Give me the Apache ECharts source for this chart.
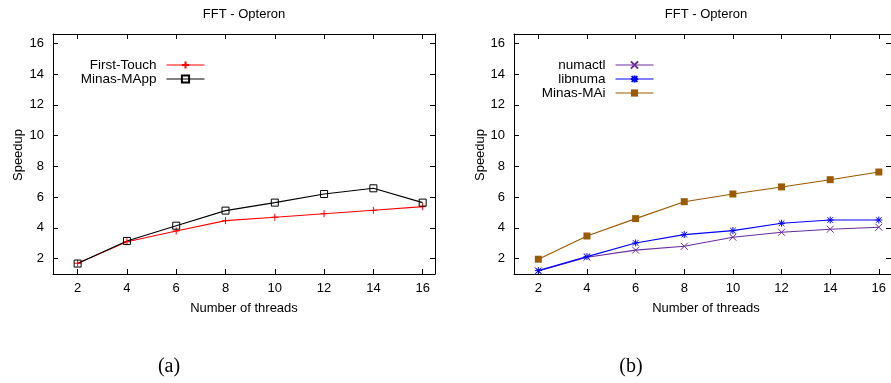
<!DOCTYPE html>
<html>
<head>
<meta charset="utf-8">
<script src="https://cdn.jsdelivr.net/npm/echarts@6/dist/echarts.min.js"></script>
<style>html,body{margin:0;padding:0;background:#fff;}#c{width:891px;height:383px;}</style>
</head>
<body>
<div id="c"></div>
<script>
// ---- data ----
const threads = [2, 4, 6, 8, 10, 12, 14, 16];
const xTicks = [2, 4, 6, 8, 10, 12, 14, 16];
const yTicks = [2, 4, 6, 8, 10, 12, 14, 16];
const firstTouch = [1.70, 3.10, 3.80, 4.47, 4.69, 4.92, 5.14, 5.38];
const minasMApp  = [1.68, 3.15, 4.14, 5.12, 5.64, 6.20, 6.57, 5.64];
const numactl    = [1.20, 2.09, 2.55, 2.80, 3.39, 3.71, 3.91, 4.04];
const libnuma    = [1.22, 2.13, 3.02, 3.56, 3.82, 4.30, 4.51, 4.51];
const minasMAi   = [1.96, 3.47, 4.60, 5.70, 6.20, 6.66, 7.13, 7.63];
const titleText = 'FFT - Opteron';
const xName = 'Number of threads';
const yName = 'Speedup';
const captions = ['(a)', '(b)'];

const FONT = 'Liberation Sans';
const pairs = arr => threads.map((t, i) => [t, arr[i]]);

const PLUS = 'path://M5,0L5,10M0,5L10,5';
const CROSS = 'path://M0,0L10,10M10,0L0,10';
const STAR = 'path://M5,0L5,10M0,5L10,5M1,1L9,9M9,1L1,9';

function mkX(gi, pos) {
  return {
    type: 'value', gridIndex: gi, position: pos, min: 1, max: 16.5,
    axisLine: { show: true, onZero: false, lineStyle: { color: '#000', width: 1 } },
    axisTick: { show: true, inside: true, length: 5, customValues: xTicks, lineStyle: { color: '#000' } },
    axisLabel: { show: pos === 'bottom', customValues: xTicks, margin: 8, color: '#000', fontFamily: FONT, fontSize: 13 },
    splitLine: { show: false }
  };
}
function mkY(gi, pos) {
  return {
    type: 'value', gridIndex: gi, position: pos, min: 1, max: 16.6,
    axisLine: { show: true, onZero: false, lineStyle: { color: '#000', width: 1 } },
    axisTick: { show: true, inside: true, length: 5, customValues: yTicks, lineStyle: { color: '#000' } },
    axisLabel: { show: pos === 'left', customValues: yTicks, margin: 9, color: '#000', fontFamily: FONT, fontSize: 13 },
    splitLine: { show: false }
  };
}
function line(name, data, xi, yi, color, symbol, size, itemStyle) {
  return {
    name, type: 'line', xAxisIndex: xi, yAxisIndex: yi, data: pairs(data),
    symbol, symbolSize: size, showAllSymbol: true,
    lineStyle: { color, width: 1.1 },
    itemStyle: itemStyle || { color: 'rgba(0,0,0,0)', borderColor: color, borderWidth: 1 },
    emphasis: { disabled: true }, animation: false
  };
}

const chart = echarts.init(document.getElementById('c'));
const legendCommon = {
  orient: 'vertical', align: 'right', itemWidth: 38, itemHeight: 9, itemGap: 0,
  textStyle: { fontFamily: FONT, fontSize: 13.5, color: '#000', padding: [0, 5, 0, 0] },
  lineStyle: { width: 1 },
  selectedMode: false
};
chart.setOption({
  animation: false,
  backgroundColor: '#fff',
  grid: [
    { left: 53, top: 34, width: 382, height: 240 },
    { left: 514, top: 34, width: 383, height: 240 }
  ],
  xAxis: [mkX(0, 'bottom'), mkX(0, 'top'), mkX(1, 'bottom'), mkX(1, 'top')],
  yAxis: [mkY(0, 'left'), mkY(0, 'right'), mkY(1, 'left'), mkY(1, 'right')],
  legend: [
    Object.assign({}, legendCommon, { data: ['First-Touch', 'Minas-MApp'], right: 681, top: 53 }),
    Object.assign({}, legendCommon, { data: ['numactl', 'libnuma', 'Minas-MAi'], right: 232, top: 53 })
  ],
  series: [
    line('First-Touch', firstTouch, 0, 0, '#ff0000', PLUS, 7),
    line('Minas-MApp', minasMApp, 0, 0, '#000000', 'rect', 7, { color: 'rgba(255,255,255,0)', borderColor: '#000', borderWidth: 1 }),
    line('numactl', numactl, 2, 2, '#6a2c9c', CROSS, 7),
    line('libnuma', libnuma, 2, 2, '#0000ff', STAR, 7),
    line('Minas-MAi', minasMAi, 2, 2, '#9a5a00', 'rect', 7, { color: '#9a5a00' })
  ],
  graphic: [
    { type: 'text', x: 244, y: 14, style: { text: titleText, font: '13px ' + FONT, fill: '#000', align: 'center', verticalAlign: 'middle' } },
    { type: 'text', x: 706, y: 14, style: { text: titleText, font: '13px ' + FONT, fill: '#000', align: 'center', verticalAlign: 'middle' } },
    { type: 'text', x: 244, y: 308, style: { text: xName, font: '13px ' + FONT, fill: '#000', align: 'center', verticalAlign: 'middle' } },
    { type: 'text', x: 706, y: 308, style: { text: xName, font: '13px ' + FONT, fill: '#000', align: 'center', verticalAlign: 'middle' } },
    { type: 'text', x: 18, y: 155, rotation: Math.PI / 2, style: { text: yName, font: '13px ' + FONT, fill: '#000', align: 'center', verticalAlign: 'middle' } },
    { type: 'text', x: 480, y: 155, rotation: Math.PI / 2, style: { text: yName, font: '13px ' + FONT, fill: '#000', align: 'center', verticalAlign: 'middle' } },
    { type: 'text', x: 169, y: 367, style: { text: captions[0], font: '20px Liberation Serif', fill: '#000', align: 'center', verticalAlign: 'middle' } },
    { type: 'text', x: 631, y: 367, style: { text: captions[1], font: '20px Liberation Serif', fill: '#000', align: 'center', verticalAlign: 'middle' } }
  ]
});
</script>
</body>
</html>
